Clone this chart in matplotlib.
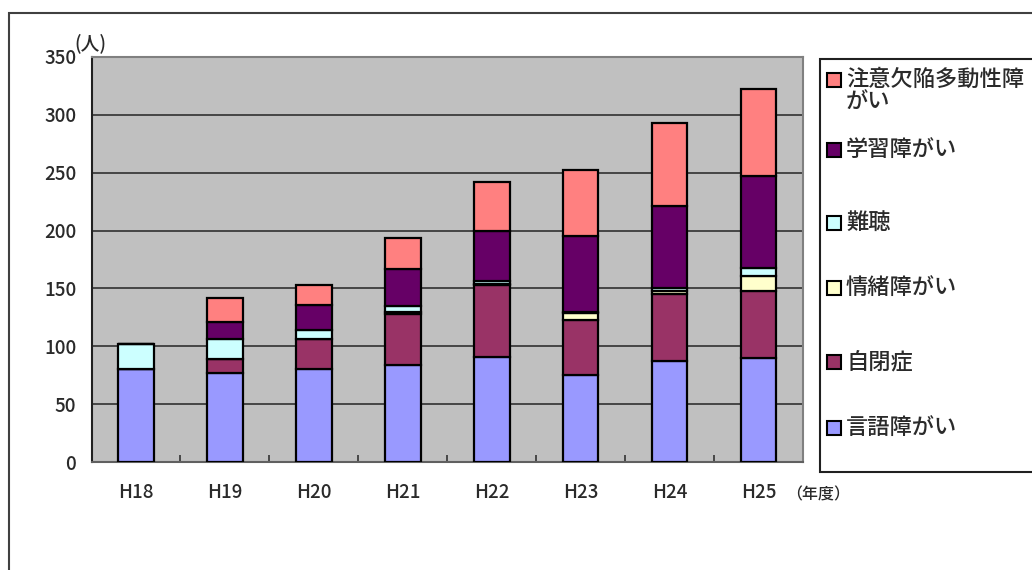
import matplotlib
matplotlib.use("Agg")
import matplotlib.pyplot as plt
from matplotlib.patches import Rectangle
import numpy as np

plt.rcParams['font.family'] = ['Noto Sans CJK JP', 'DejaVu Sans']

# --- dados ---
anos = ['H18', 'H19', 'H20', 'H21', 'H22', 'H23', 'H24', 'H25']

gengo = [80, 77, 80, 84, 91, 75, 87, 90]        # 言語障がい
jihei = [0, 12, 26, 44, 62, 48, 58, 58]         # 自閉症
jocho = [0, 0, 0, 2, 1, 6, 3, 13]               # 情緒障がい
nancho = [22, 17, 8, 5, 2, 1, 2, 7]             # 難聴
gakushu = [0, 15, 22, 32, 44, 65, 71, 79]       # 学習障がい
adhd = [0, 21, 17, 27, 42, 57, 72, 75]          # 注意欠陥多動性障がい

series = [gengo, jihei, jocho, nancho, gakushu, adhd]
labels = ['言語障がい', '自閉症', '情緒障がい', '難聴', '学習障がい', '注意欠陥多動性障\nがい']
cores = ['#9999FF', '#993366', '#FFFFCC', '#CCFFFF', '#660066', '#FF8080']

texto = '#2a2a2a'
W, H = 1032, 570
fig = plt.figure(figsize=(W / 100, H / 100), dpi=100)

# moldura externa
fig.patches.append(Rectangle((9 / W, -0.01), 1.02, 1 - 13 / H + 0.01,
                             transform=fig.transFigure, fill=False,
                             edgecolor='#404040', linewidth=1.5))

ax = fig.add_axes([91.5 / W, 1 - 462 / H, (803 - 91.5) / W, (462 - 57) / H])
ax.set_facecolor('#C0C0C0')

x = np.arange(len(anos))
base = np.zeros(len(anos))
for vals, cor in zip(series, cores):
    ax.bar(x, vals, 0.4, bottom=base, color=cor, edgecolor='black',
           linewidth=1.6, zorder=3)
    base += np.array(vals)

ax.set_xlim(-0.5, len(anos) - 0.5)
ax.set_ylim(0, 350)
ax.set_yticks(range(0, 351, 50))
ax.yaxis.grid(True, color='#303030', linewidth=1.2, zorder=1)
ax.set_axisbelow(True)

ax.set_xticks(x)
ax.set_xticklabels(anos, fontsize=13.5, color=texto, fontweight='medium')
ax.set_xticks(np.arange(0.5, len(anos) - 0.5, 1), minor=True)
ax.tick_params(axis='x', which='major', length=0, pad=15)
ax.tick_params(axis='x', which='minor', direction='in', length=5, width=1.2, color='#333333')
ax.tick_params(axis='y', length=0, pad=11, labelsize=13.5, labelcolor=texto)
for t in ax.get_yticklabels():
    t.set_fontweight('medium')

for lado in ['top', 'right']:
    ax.spines[lado].set_color('#808080')
ax.spines['left'].set_color('#202020')
ax.spines['bottom'].set_color('#606060')
for s in ax.spines.values():
    s.set_linewidth(1.5)

fig.text(90 / W, 1 - 43 / H, '(人)', ha='center', va='center', fontsize=13.5,
         color=texto, fontweight='medium')
fig.text(818 / W, 1 - 495 / H, '（年度）', ha='center', va='center', fontsize=11.5,
         color=texto, fontweight='medium')

# legenda desenhada à mão
fig.patches.append(Rectangle((820 / W, 1 - 472 / H), 0.3, (472 - 59) / H,
                             transform=fig.transFigure, facecolor='white',
                             edgecolor='#202020', linewidth=1.5))
ys = [428, 362, 288, 223, 150, 80]
for lab, cor, yy in zip(labels, cores, ys):
    fig.patches.append(Rectangle((827 / W, 1 - (yy + 7) / H), 14 / W, 14 / H,
                                 transform=fig.transFigure, facecolor=cor,
                                 edgecolor='black', linewidth=1.5))
    fig.text(846 / W, 1 - (yy - 12) / H, lab, ha='left', va='top',
             fontsize=16, color=texto, linespacing=0.95, fontweight='medium')

fig.savefig('out.png', dpi=100)
